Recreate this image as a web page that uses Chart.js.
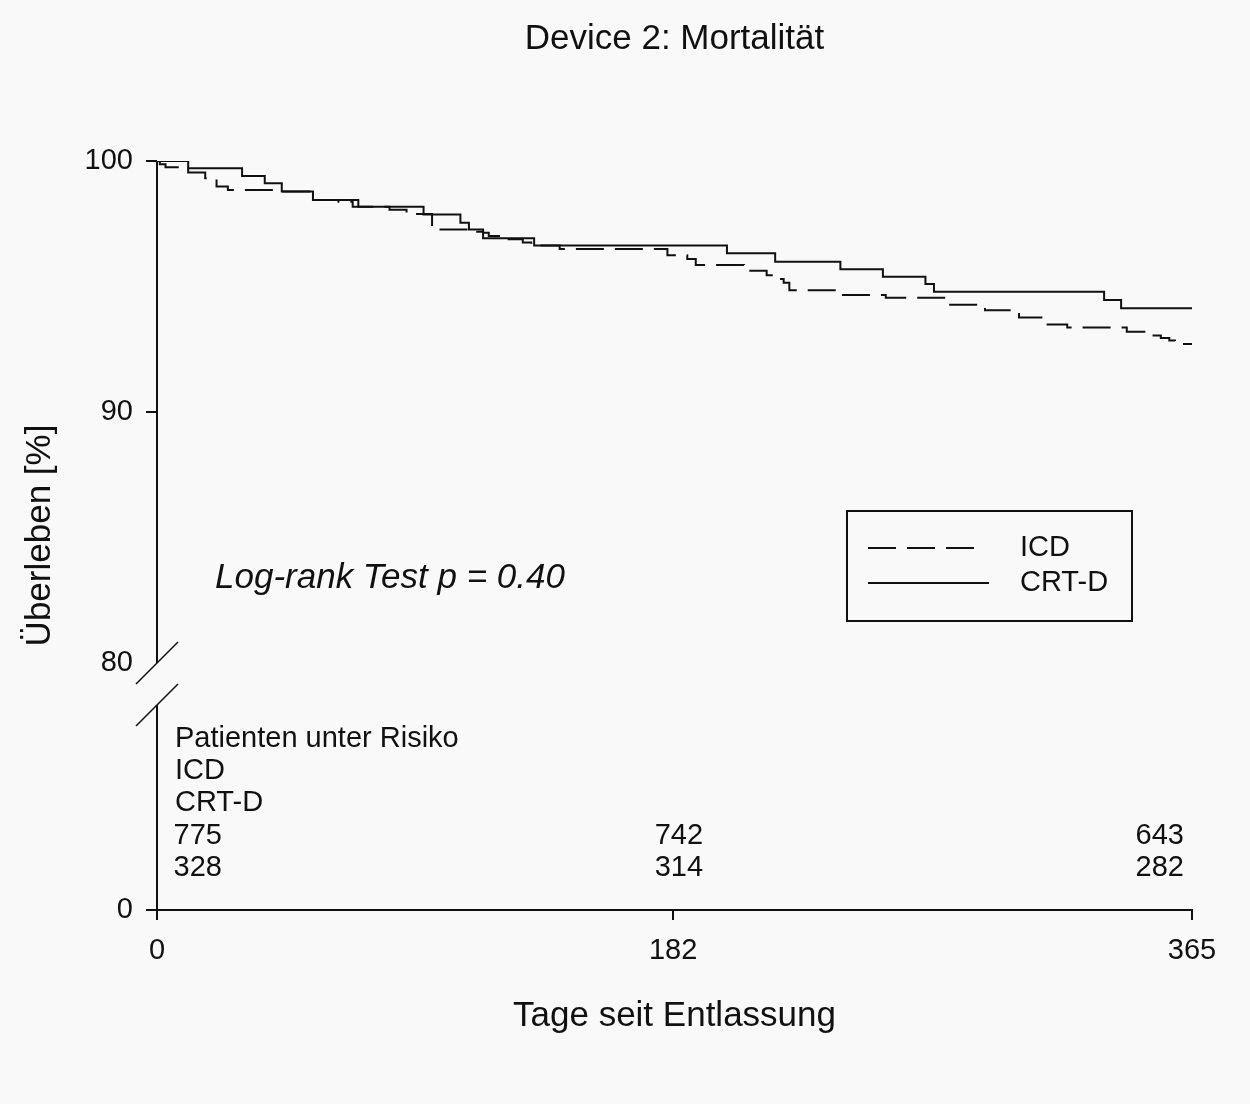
<!DOCTYPE html>
<html>
<head>
<meta charset="utf-8">
<title>Device 2: Mortalität</title>
<script src="https://cdn.jsdelivr.net/npm/chart.js@4.4.1/dist/chart.umd.min.js"></script>
<style>
  html, body { margin: 0; padding: 0; background: #f9f9f9; }
  .wrap { width: 1250px; height: 1104px; }
</style>
</head>
<body>
<div class="wrap"><canvas id="km"></canvas></div>
<script>
// Kaplan-Meier steps: day of event, survival (%) after the step
const icdDays = [0, 1, 3, 11, 17, 21, 25, 44, 55, 64, 69, 82, 88, 97, 99, 110, 112, 115, 117, 123, 129, 132, 142,
  180, 187, 190, 207, 215, 219, 221, 223, 241, 257, 278, 292, 304, 313, 321, 342, 351, 354, 357, 359, 365];
const icdSurv = [100, 99.87, 99.75, 99.54, 99.31, 98.98, 98.84, 98.78, 98.45, 98.38, 98.18, 98.06, 97.89, 97.38, 97.27,
  97.22, 97.18, 97.14, 97.01, 96.88, 96.75, 96.63, 96.49, 96.25, 96.10, 95.86, 95.63, 95.45, 95.30, 95.15, 94.85,
  94.66, 94.55, 94.27, 94.05, 93.76, 93.49, 93.37, 93.20, 93.05, 92.95, 92.85, 92.71, 92.71];

const crtDays = [0, 11, 30, 38, 44, 55, 71, 94, 107, 110, 115, 133, 201, 218, 241, 256, 271, 274, 334, 340, 365];
const crtSurv = [100, 99.71, 99.40, 99.11, 98.78, 98.45, 98.18, 97.87, 97.54, 97.27, 96.92, 96.63, 96.32, 95.99,
  95.69, 95.39, 95.10, 94.79, 94.46, 94.13, 94.13];

const xTicks = [0, 182, 365];
const yTicks = [80, 90, 100];
const yLowTicks = [0];

const riskLabels = ["Patienten unter Risiko", "ICD", "CRT-D"];
const riskICD = [775, 742, 643];
const riskCRT = [328, 314, 282];

const FONT = "'Liberation Sans', Arial, Helvetica, sans-serif";
const INK = "#111";

const toPoints = (days, surv) => days.map((d, i) => ({ x: d, y: surv[i] }));

const background = {
  id: "background",
  beforeDraw(chart) {
    const c = chart.ctx;
    c.save();
    c.fillStyle = "#f9f9f9";
    c.fillRect(0, 0, chart.width, chart.height);
    c.restore();
  }
};

const decorations = {
  id: "decorations",
  afterDraw(chart) {
    const c = chart.ctx;
    const area = chart.chartArea;
    const y = chart.scales.y;
    const xs = chart.scales.x;
    const y80 = y.getPixelForValue(80);
    const left = area.left;

    c.save();
    c.strokeStyle = INK;
    c.lineWidth = 2;
    c.setLineDash([]);

    // y axis line with break
    c.beginPath();
    c.moveTo(left, area.top);
    c.lineTo(left, y80);
    c.moveTo(left, y80 + 42);
    c.lineTo(left, area.bottom);
    c.stroke();

    c.lineWidth = 1.5;
    c.beginPath();
    c.moveTo(left - 21, y80 + 21);
    c.lineTo(left + 21, y80 - 21);
    c.moveTo(left - 21, y80 + 63);
    c.lineTo(left + 21, y80 + 21);
    c.stroke();

    c.fillStyle = INK;

    // title, centred over the plot
    c.font = "35px " + FONT;
    c.textAlign = "center";
    c.textBaseline = "middle";
    c.fillText("Device 2: Mortalität", (area.left + area.right) / 2, 39);

    // y title
    c.save();
    c.translate(40, (area.top + area.bottom) / 2);
    c.rotate(-Math.PI / 2);
    c.fillText("Überleben [%]", 0, 0);
    c.restore();

    // log-rank annotation
    c.font = "italic 35px " + FONT;
    c.textAlign = "left";
    c.textBaseline = "alphabetic";
    c.fillText("Log-rank Test p = 0.40", 215, 588);

    // legend box
    c.lineWidth = 2;
    c.strokeRect(847, 511, 285, 110);
    const ds = chart.data.datasets;
    const rows = [548, 583];
    const ends = [977, 989];
    ds.forEach((d, i) => {
      c.setLineDash(d.borderDash || []);
      c.beginPath();
      c.moveTo(868, rows[i]);
      c.lineTo(ends[i], rows[i]);
      c.stroke();
      c.setLineDash([]);
      c.font = "29px " + FONT;
      c.textBaseline = "middle";
      c.fillText(d.label, 1020, rows[i]);
    });

    // patients at risk table
    c.font = "29px " + FONT;
    c.textBaseline = "alphabetic";
    const base = y80 + 84;
    const step = 32.2;
    riskLabels.forEach((t, i) => {
      c.textAlign = "left";
      c.fillText(t, left + 18, base + i * step);
    });
    const colRight = [left + 65, xs.getPixelForValue(182) + 30, xs.getPixelForValue(365) - 8];
    c.textAlign = "right";
    riskICD.forEach((n, i) => c.fillText(String(n), colRight[i], base + 3 * step));
    riskCRT.forEach((n, i) => c.fillText(String(n), colRight[i], base + 4 * step));
    c.restore();
  }
};

new Chart(document.getElementById("km"), {
  type: "line",
  data: {
    datasets: [
      {
        label: "ICD",
        data: toPoints(icdDays, icdSurv),
        borderColor: INK,
        borderWidth: 2,
        borderDash: [28, 11],
        stepped: true,
        pointRadius: 0,
        fill: false,
        yAxisID: "y"
      },
      {
        label: "CRT-D",
        data: toPoints(crtDays, crtSurv),
        borderColor: INK,
        borderWidth: 2,
        stepped: true,
        pointRadius: 0,
        fill: false,
        yAxisID: "y"
      }
    ]
  },
  options: {
    responsive: true,
    maintainAspectRatio: false,
    animation: false,
    layout: { padding: { left: 0, right: 58, top: 161, bottom: 66.6 } },
    plugins: {
      legend: { display: false },
      tooltip: { enabled: false },
      title: { display: false }
    },
    scales: {
      x: {
        type: "linear",
        min: 0,
        max: 365,
        afterBuildTicks: s => { s.ticks = xTicks.map(v => ({ value: v })); },
        ticks: { color: INK, font: { family: FONT, size: 29 }, padding: 14, maxRotation: 0 },
        grid: { drawOnChartArea: false, drawTicks: true, tickLength: 10, color: INK, lineWidth: 2 },
        border: { display: true, color: INK, width: 2 },
        title: {
          display: true,
          text: "Tage seit Entlassung",
          color: INK,
          font: { family: FONT, size: 35 },
          padding: { top: 12.6, bottom: 0 }
        }
      },
      y0: {
        type: "linear",
        position: "left",
        stack: "left",
        stackWeight: 247,
        min: 0,
        max: 10,
        afterBuildTicks: s => { s.ticks = yLowTicks.map(v => ({ value: v })); },
        afterFit: s => { s.width = 157; },
        ticks: { color: INK, font: { family: FONT, size: 29 }, padding: 13 },
        grid: { drawOnChartArea: false, drawTicks: true, tickLength: 11, lineWidth: 2, color: INK },
        border: { display: false }
      },
      y: {
        type: "linear",
        position: "left",
        stack: "left",
        stackWeight: 502,
        min: 80,
        max: 100,
        afterBuildTicks: s => { s.ticks = yTicks.map(v => ({ value: v })); },
        afterFit: s => { s.width = 157; },
        ticks: { color: INK, font: { family: FONT, size: 29 }, padding: 13 },
        grid: {
          drawOnChartArea: false,
          drawTicks: true,
          tickLength: 11,
          lineWidth: 2,
          color: ctx => (ctx.tick && ctx.tick.value === 80 ? "rgba(0,0,0,0)" : INK)
        },
        border: { display: false }
      }
    }
  },
  plugins: [background, decorations]
});
</script>
</body>
</html>
